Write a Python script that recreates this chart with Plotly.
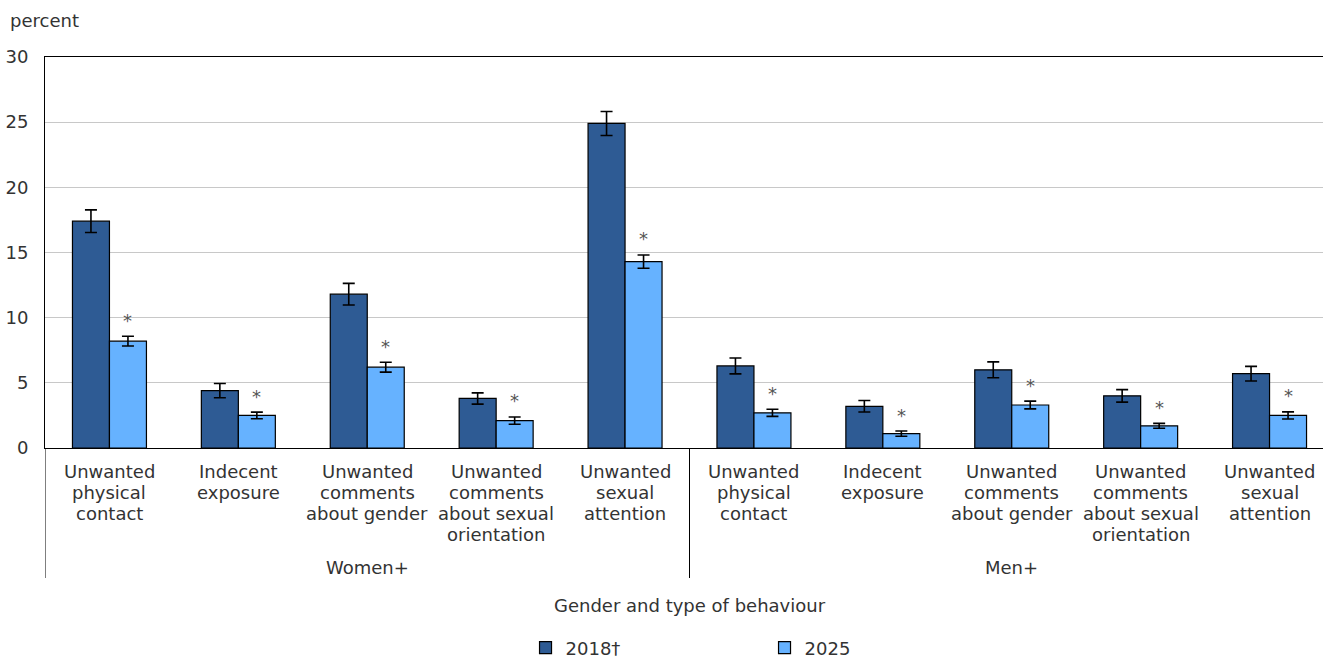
import plotly.graph_objects as go

# Survey results: share of people who experienced each behaviour, by gender
groups = ["Women+", "Men+"]
behaviours = [
    ["Unwanted", "physical", "contact"],
    ["Indecent", "exposure"],
    ["Unwanted", "comments", "about gender"],
    ["Unwanted", "comments", "about sexual", "orientation"],
    ["Unwanted", "sexual", "attention"],
]
labels = behaviours + behaviours

values_2018 = [17.4, 4.4, 11.8, 3.8, 24.9, 6.3, 3.2, 6.0, 4.0, 5.7]
errors_2018 = [0.87, 0.55, 0.83, 0.43, 0.92, 0.61, 0.44, 0.61, 0.48, 0.56]
values_2025 = [8.2, 2.5, 6.2, 2.1, 14.3, 2.7, 1.1, 3.3, 1.7, 2.5]
errors_2025 = [0.37, 0.25, 0.38, 0.28, 0.51, 0.27, 0.2, 0.3, 0.19, 0.27]
significant_2025 = [True] * 10

series_names = ["2018\u2020", "2025"]
y_ticks = [0, 5, 10, 15, 20, 25, 30]

FONT = "DejaVu Sans"
FS = 18
TEXT = "#333333"
DARK = "#2E5B94"
LIGHT = "#66B2FF"
BARGAP = 0.426
BAR_W = (1 - BARGAP) / 2
PLOT_H = 391  # plot-area height in px (660 - top 57 - bottom 212)

xs = list(range(len(labels)))

fig = go.Figure()
fig.add_trace(go.Bar(
    x=xs, y=values_2018, name=series_names[0],
    marker=dict(color=DARK, line=dict(color="#000000", width=1.2)),
    error_y=dict(type="data", array=errors_2018, color="#000000", thickness=1.6, width=6),
))
fig.add_trace(go.Bar(
    x=xs, y=values_2025, name=series_names[1],
    marker=dict(color=LIGHT, line=dict(color="#000000", width=1.2)),
    error_y=dict(type="data", array=errors_2025, color="#000000", thickness=1.6, width=6),
))

shapes = []
annotations = []

# significance markers above the 2025 bars
for x, v, e, s in zip(xs, values_2025, errors_2025, significant_2025):
    if s:
        annotations.append(dict(text="*", xref="x", yref="y", x=x + BAR_W / 2, y=v + e,
                                yshift=16, showarrow=False, yanchor="middle",
                                font=dict(family=FONT, size=FS, color="#555555")))

# category labels, one annotation per line for tight line spacing
for x, lines in zip(xs, labels):
    for k, line in enumerate(lines):
        annotations.append(dict(text=line, xref="x", yref="paper", x=x, y=0,
                                yshift=-23 - 21 * k, showarrow=False, yanchor="middle",
                                font=dict(family=FONT, size=FS, color=TEXT)))

# group dividers and group names
n_per_group = len(behaviours)
for gi, g in enumerate(groups):
    left = gi * n_per_group - 0.5
    shapes.append(dict(type="line", xref="x", yref="paper", x0=left, x1=left,
                       y0=0, y1=-130 / PLOT_H, line=dict(color="#000000", width=1)))
    annotations.append(dict(text=g, xref="x", yref="paper",
                            x=gi * n_per_group + (n_per_group - 1) / 2, y=0, yshift=-119,
                            showarrow=False, yanchor="middle",
                            font=dict(family=FONT, size=FS, color=TEXT)))

annotations.append(dict(text="Gender and type of behaviour", xref="x", yref="paper",
                        x=(len(labels) - 1) / 2, y=0, yshift=-157, showarrow=False,
                        yanchor="middle", font=dict(family=FONT, size=FS, color=TEXT)))
annotations.append(dict(text="percent", xref="paper", yref="paper", x=-0.029, y=1.0,
                        yshift=37, xanchor="left", yanchor="middle", showarrow=False,
                        font=dict(family=FONT, size=FS, color=TEXT)))

fig.update_layout(
    width=1323, height=660,
    margin=dict(l=45, r=0, t=57, b=212, autoexpand=False),
    paper_bgcolor="white", plot_bgcolor="white",
    barmode="group", bargap=BARGAP, bargroupgap=0,
    font=dict(family=FONT, size=FS, color=TEXT),
    showlegend=True,
    legend=dict(orientation="h", x=0.376, xanchor="left", y=-200 / PLOT_H, yanchor="middle",
                entrywidth=194, entrywidthmode="pixels", itemwidth=30,
                font=dict(family=FONT, size=FS, color=TEXT)),
    shapes=shapes,
    annotations=annotations,
)
fig.update_xaxes(
    range=[-0.5, len(labels) - 0.5 - 11 / 128.9],
    showticklabels=False,
    showline=True, linecolor="#000000", linewidth=1, mirror=True,
    showgrid=False, ticks="", zeroline=False,
)
fig.update_yaxes(
    range=[0, 30], tickvals=y_ticks,
    showline=True, linecolor="#000000", linewidth=1,
    showgrid=True, gridcolor="#C8C8C8", gridwidth=1, zeroline=False,
    ticks="", ticklabelstandoff=12,
    tickfont=dict(family=FONT, size=FS, color=TEXT),
)

fig.write_html("out.html")
